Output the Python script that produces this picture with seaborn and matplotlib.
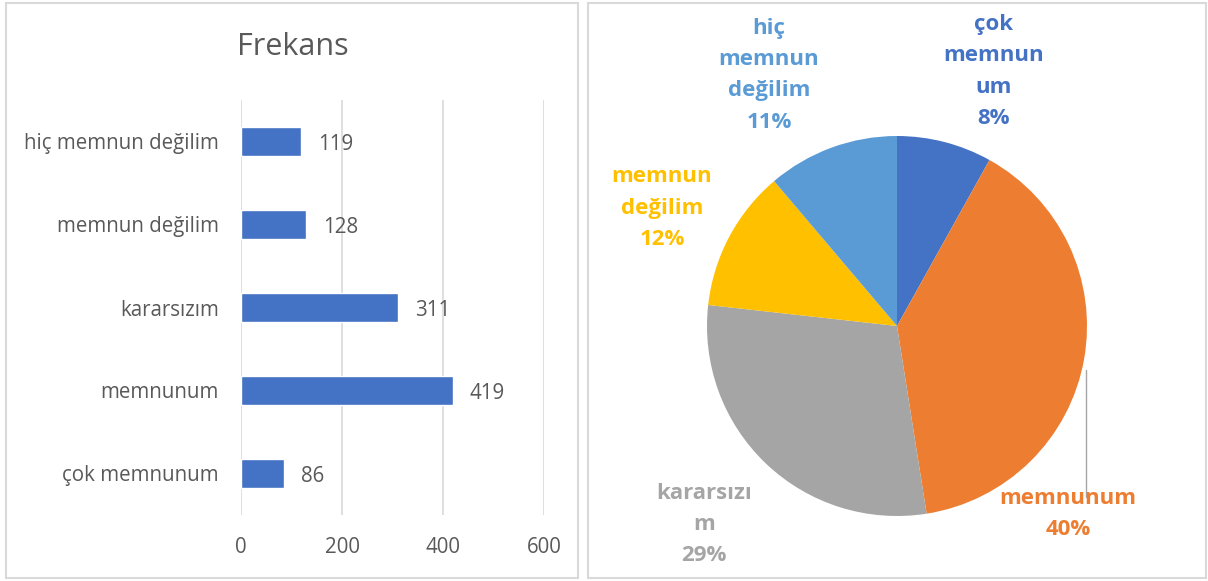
import numpy as np
import pandas as pd
import matplotlib
matplotlib.use("Agg")
import matplotlib.pyplot as plt
import seaborn as sns
from matplotlib.patches import Rectangle

# ── data ─────────────────────────────────────────
categories = ["hiç memnun değilim", "memnun değilim", "kararsızım", "memnunum", "çok memnunum"]
counts     = [119, 128, 311, 419, 86]
x_ticks    = [0, 200, 400, 600]

pie_order  = ["çok memnunum", "memnunum", "kararsızım", "memnun değilim", "hiç memnun değilim"]
pie_counts = [86, 419, 311, 128, 119]
pie_pct    = ["8%", "40%", "29%", "12%", "11%"]
pie_text   = ["çok\nmemnun\num", "memnunum", "kararsızı\nm", "memnun\ndeğilim", "hiç\nmemnun\ndeğilim"]
pie_colors = ["#4472C4", "#ED7D31", "#A5A5A5", "#FFC000", "#5B9BD5"]

# label placement (pie units, radius = 1)
label_pos  = [(0.51, 1.34), (0.90, -0.99), (-1.016, -1.045), (-1.237, 0.62), (-0.674, 1.32)]

sns.set_theme(style="white")
plt.rcParams["font.family"] = ["Open Sans", "DejaVu Sans"]
TXT = "#595959"

W, H = 1208, 581
fig = plt.figure(figsize=(W / 100, H / 100), dpi=100)

# panel frames
for x0, x1 in [(6, 578), (588, 1206)]:
    fig.patches.append(Rectangle((x0 / W, 3 / H), (x1 - x0) / W, (H - 6) / H,
                                 transform=fig.transFigure, fill=False,
                                 edgecolor="#D9D9D9", linewidth=1.5))

# ── left: bar chart ──────────────────────────────
df = pd.DataFrame({"cat": categories, "n": counts})
ax = fig.add_axes([241 / W, (H - 515) / H, 303 / W, 415 / H])
sns.barplot(data=df, y="cat", x="n", orient="h", color="#4472C4",
            width=0.35, saturation=1, ax=ax)
ax.set_xlim(0, 600)
ax.set_xticks(x_ticks)
ax.set_ylim(4.5, -0.5)
ax.set_xlabel("")
ax.set_ylabel("")
for s in ax.spines.values():
    s.set_visible(False)
ax.grid(axis="x", color="#D9D9D9", linewidth=1.2)
ax.grid(axis="y", visible=False)
ax.set_axisbelow(True)
ax.tick_params(axis="both", length=0, labelsize=14.8, labelcolor=TXT)
ax.tick_params(axis="x", pad=16)
ax.tick_params(axis="y", pad=16)
for i, v in enumerate(counts):
    ax.annotate(str(v), xy=(v, i), xytext=(17, -3), textcoords="offset pixels",
                ha="left", va="center", fontsize=14.8, color=TXT)
fig.text(293 / W, 1 - 47 / H, "Frekans", ha="center", va="center",
         fontsize=22, color=TXT)

# ── right: pie chart ─────────────────────────────
R = 190
cx, cy = 897, 326
pax = fig.add_axes([588 / W, 0, 618 / W, 1])
pax.pie(pie_counts, colors=pie_colors, startangle=90, counterclock=False,
        wedgeprops=dict(linewidth=0))
pax.set_xlim(-(cx - 588) / R, (1206 - cx) / R)
pax.set_ylim(-(H - cy) / R, cy / R)
pax.set_aspect("auto")
pax.axis("off")

for txt, pct, col, (lx, ly) in zip(pie_text, pie_pct, pie_colors, label_pos):
    pax.text(lx, ly, f"{txt}\n{pct}", ha="center", va="center", color=col,
             fontsize=16, fontweight="bold", linespacing=1.65)

# leader line for memnunum
pax.plot([0.995, 0.995], [-0.23, -0.9], color="#A6A6A6", linewidth=1)

fig.savefig("out.png", dpi=100)
